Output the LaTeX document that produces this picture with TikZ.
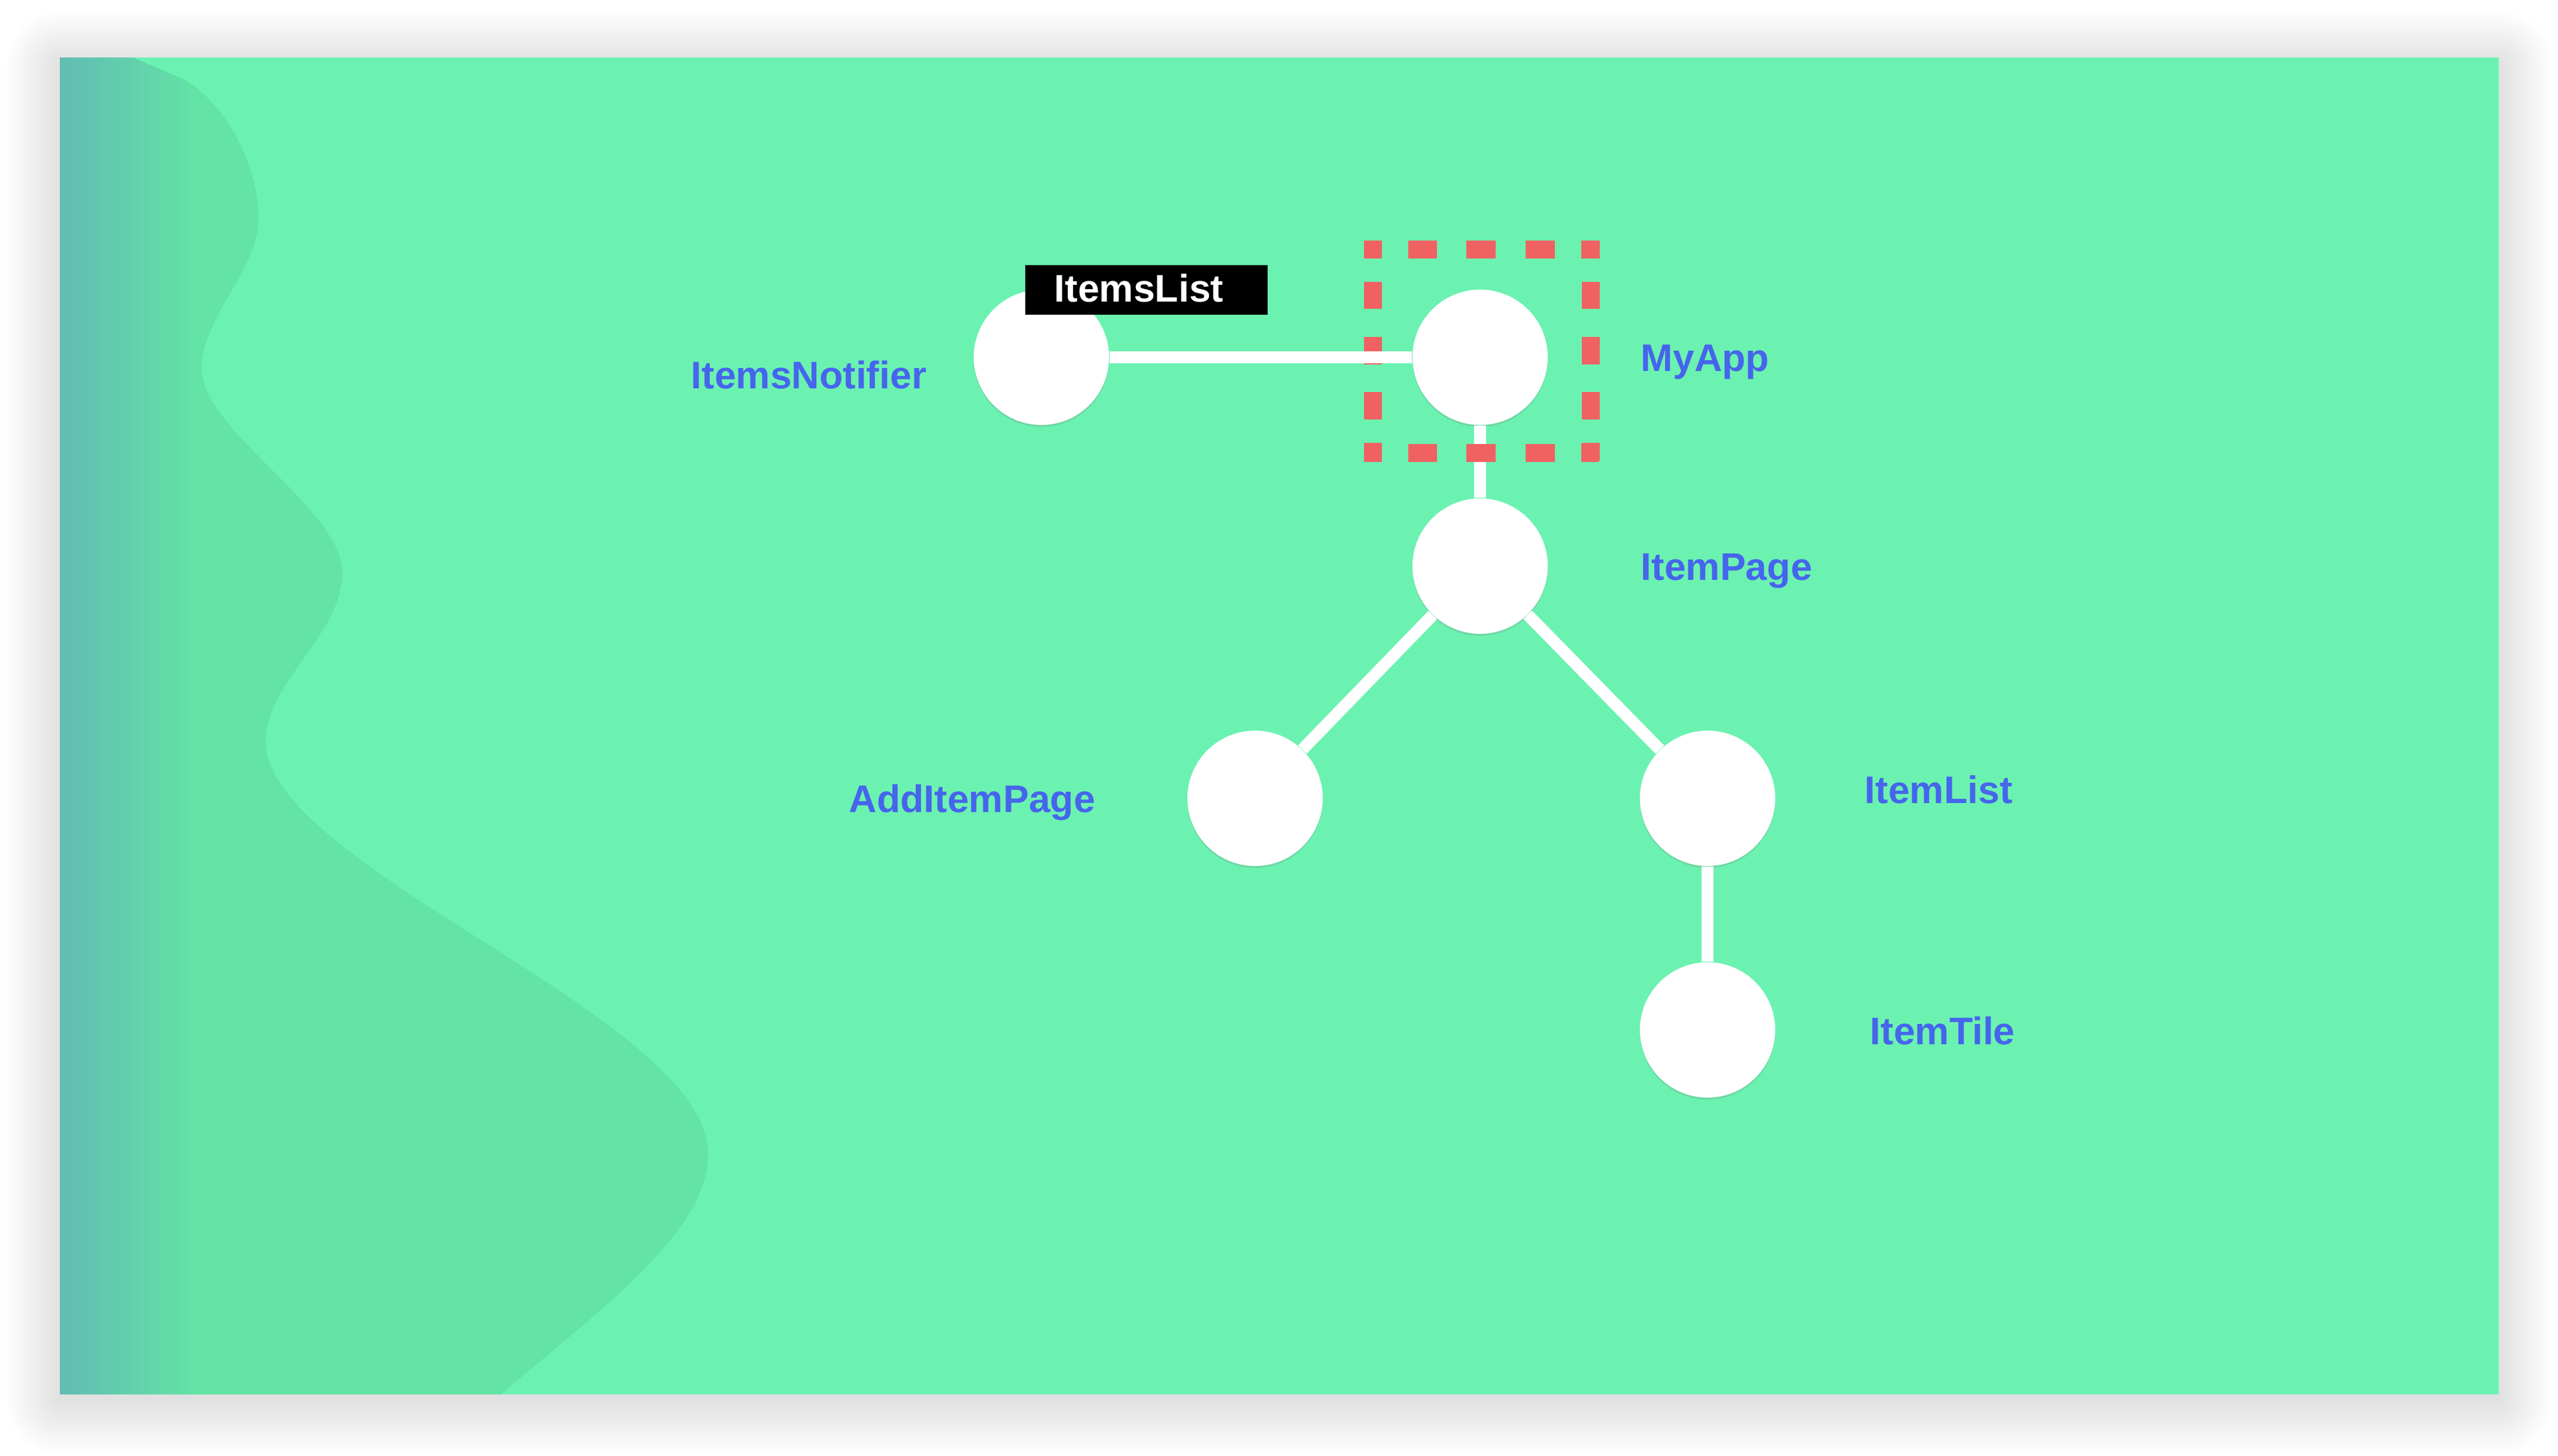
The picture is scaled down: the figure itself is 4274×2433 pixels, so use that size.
\documentclass[tikz,border=0pt]{standalone}
\usepackage{fontspec}
\setmainfont{Liberation Sans}
\usetikzlibrary{shadows}
\definecolor{bggreen}{HTML}{6BF2B1}
\definecolor{wavegreen}{HTML}{63E3A5}
\definecolor{waveteal}{HTML}{62BCB3}
\definecolor{lblblue}{HTML}{4665EC}
\definecolor{boxred}{HTML}{F06262}
\def\mywavepath{(100,96) -- (222,96) -- (310,134) .. controls (390,185) and (432,290) .. (432,365) .. controls (432,450) and (337,530) .. (337,616) .. controls (337,720) and (572,850) .. (572,957) .. controls (572,1060) and (444,1140) .. (444,1239) .. controls (444,1450) and (1183,1700) .. (1183,1928) .. controls (1183,2060) and (1000,2190) .. (837,2330) -- (100,2330) -- cycle}
\begin{document}
\begin{tikzpicture}[x=0.01cm, y=-0.01cm,
  circ/.style={circle, fill=white, minimum size=2.26cm, inner sep=0pt,
    drop shadow={shadow xshift=0cm, shadow yshift=-0.035cm, opacity=0.22}},
  edge/.style={white, line width=0.2cm},
  lbl/.style={anchor=base west, inner sep=0pt, text=lblblue,
    font=\fontsize{18.3pt}{22pt}\selectfont\bfseries},
  redh/.style={boxred, line width=0.3cm, dash pattern=on 0.30cm off 0.44cm on 0.48cm off 0.49cm on 0.49cm off 0.50cm on 0.49cm off 0.44cm on 0.29cm off 1cm},
  redv/.style={boxred, line width=0.3cm, dash pattern=on 0.30cm off 0.39cm on 0.45cm off 0.47cm on 0.46cm off 0.46cm on 0.46cm off 0.39cm on 0.30cm off 1cm}]
\useasboundingbox (0,0) rectangle (4274,2433);
\fill[white] (0,0) rectangle (4274,2433);
% soft shadow of the panel
\foreach \i in {1,...,30}{
  \fill[black, fill opacity=0.0045, rounded corners=0.03*\i cm]
    (100-3*\i,108-3*\i) rectangle (4175+3*\i,2340+3*\i);
}
% panel
\fill[bggreen] (100,96) rectangle (4175,2330);
% wave
\fill[wavegreen] \mywavepath;
\begin{scope}
  \clip \mywavepath;
  \shade[left color=waveteal, right color=wavegreen] (100,96) rectangle (330,2330);
\end{scope}
% nodes
\node[circ] (notifier) at (1740,597) {};
\node[circ] (myapp) at (2473,597) {};
\node[circ] (itempage) at (2473,946) {};
\node[circ] (additem) at (2097,1334) {};
\node[circ] (itemlist) at (2853,1334) {};
\node[circ] (itemtile) at (2853,1721) {};
% connectors
\draw[edge] (myapp) -- (itempage);
% selection box
\node[inner sep=0pt, minimum width=3.625cm, minimum height=3.38cm] (sel) at (2476.25,587) {};
\draw[redh] ([xshift=-0.15cm]sel.north west) -- ([xshift=0.15cm]sel.north east);
\draw[redh] ([xshift=-0.15cm]sel.south west) -- ([xshift=0.15cm]sel.south east);
\draw[redv] ([yshift=0.15cm]sel.north west) -- ([yshift=-0.15cm]sel.south west);
\draw[redv] ([yshift=0.15cm]sel.north east) -- ([yshift=-0.15cm]sel.south east);
\draw[edge] (notifier) -- (myapp);
\draw[edge] (itempage) -- (additem);
\draw[edge] (itempage) -- (itemlist);
\draw[edge] (itemlist) -- (itemtile);
% black label box
\node[fill=black, anchor=north west, minimum width=4.05cm, minimum height=0.83cm, inner sep=0pt] (ilbox) at (1712,442) {};
\node[lbl, text=white] (iltext) at (1761,504) {ItemsList};
% labels
\node[lbl] (lnotifier) at (1154,649) {ItemsNotifier};
\node[lbl] (lmyapp) at (2741,620) {MyApp};
\node[lbl] (litempage) at (2741,969) {ItemPage};
\node[lbl] (ladditem) at (1418,1357) {AddItemPage};
\node[lbl] (litemlist) at (3115,1342) {ItemList};
\node[lbl] (litemtile) at (3124,1745) {ItemTile};
\end{tikzpicture}
\end{document}
